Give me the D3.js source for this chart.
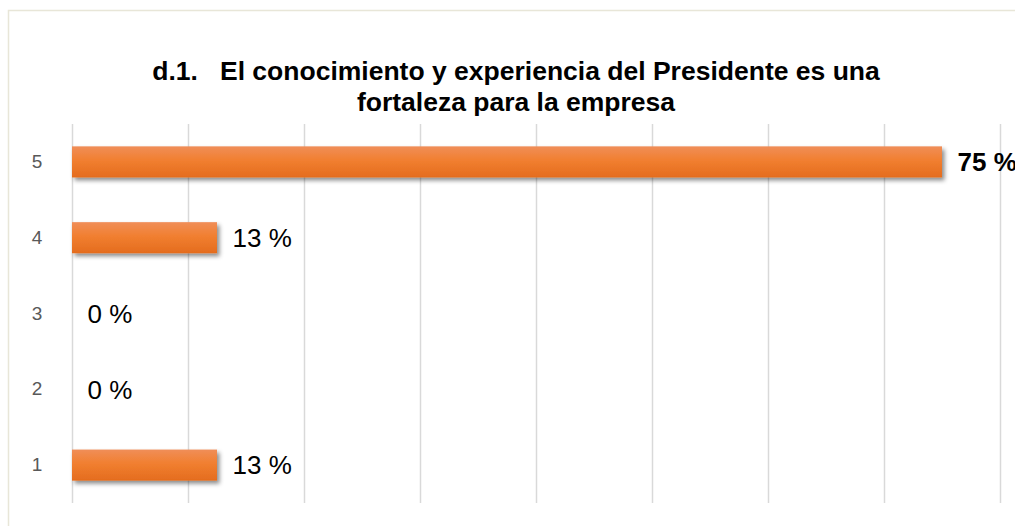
<!DOCTYPE html>
<html>
<head>
<meta charset="utf-8">
<script src="https://cdn.jsdelivr.net/npm/d3@7"></script>
<style>
  html, body { margin: 0; padding: 0; background: #fff; }
  svg { display: block; }
</style>
</head>
<body>
<svg id="chart" width="1015" height="526"></svg>
<script>
// ---- data ----
const categories = ["5", "4", "3", "2", "1"];
const values = [75, 12.5, 0, 0, 12.5];
const valueLabels = ["75 %", "13 %", "0 %", "0 %", "13 %"];
const boldLabel = [true, false, false, false, false];
const gridTicks = [0, 10, 20, 30, 40, 50, 60, 70, 80];
const titleLines = ["d.1.   El conocimiento y experiencia del Presidente es una", "fortaleza para la empresa"];

(function () {
const svg = d3.select("#chart");

// frame
svg.append("rect").attr("x", 8.5).attr("y", 10.5).attr("width", 1200).attr("height", 700)
  .attr("fill", "#fff").attr("stroke", "#e8e6d8").attr("stroke-width", 1.5);

const defs = svg.append("defs");
const grad = defs.append("linearGradient").attr("id", "barGrad").attr("x1", 0).attr("y1", 0).attr("x2", 0).attr("y2", 1);
grad.append("stop").attr("offset", "0%").attr("stop-color", "#f08e58");
grad.append("stop").attr("offset", "45%").attr("stop-color", "#f17f30");
grad.append("stop").attr("offset", "100%").attr("stop-color", "#e46c1e");
const filt = defs.append("filter").attr("id", "shadow").attr("x", "-5%").attr("y", "-30%").attr("width", "115%").attr("height", "180%");
filt.append("feDropShadow").attr("dx", 2.5).attr("dy", 3).attr("stdDeviation", 2.2)
  .attr("flood-color", "#000").attr("flood-opacity", 0.45);

const plotLeft = 71.5, plotTop = 124, plotBottom = 503;
const x = d3.scaleLinear().domain([0, 80]).range([plotLeft, plotLeft + 928]);
const y = d3.scaleBand().domain(categories).range([plotTop, plotBottom]).paddingInner(0.59).paddingOuter(0.295);

// grid lines
svg.append("g").selectAll("line").data(gridTicks).join("line")
  .attr("x1", d => Math.round(x(d)) + 0.5).attr("x2", d => Math.round(x(d)) + 0.5)
  .attr("y1", plotTop).attr("y2", plotBottom)
  .attr("stroke", "#d9d9d9").attr("stroke-width", 1.5);

// y axis labels
const yAxis = d3.axisLeft(y).tickSize(0).tickPadding(0);
const gy = svg.append("g").attr("transform", `translate(42,0)`).call(yAxis);
gy.select(".domain").remove();
gy.selectAll("text").attr("font-family", "Liberation Sans, Arial, sans-serif")
  .attr("font-size", 19).attr("fill", "#595959").attr("text-anchor", "middle").attr("dx", -5);

// bars
svg.append("g").selectAll("rect").data(values).join("rect")
  .attr("x", x(0) + 0.5)
  .attr("y", (d, i) => y(categories[i]))
  .attr("width", d => Math.max(0, x(d) - x(0)))
  .attr("height", y.bandwidth())
  .attr("fill", "url(#barGrad)")
  .attr("filter", "url(#shadow)")
  .style("display", d => d > 0 ? null : "none");

// value labels
svg.append("g").selectAll("text").data(values).join("text")
  .attr("x", d => x(d) + 16)
  .attr("y", (d, i) => y(categories[i]) + y.bandwidth() / 2)
  .attr("dy", "0.36em")
  .attr("font-family", "Liberation Sans, Arial, sans-serif")
  .attr("font-size", 26)
  .attr("font-weight", (d, i) => boldLabel[i] ? "bold" : "normal")
  .attr("fill", "#000")
  .text((d, i) => valueLabels[i]);

// title
svg.append("g").selectAll("text").data(titleLines).join("text")
  .attr("x", 516).attr("y", (d, i) => 80 + i * 31)
  .attr("text-anchor", "middle")
  .attr("font-family", "Liberation Sans, Arial, sans-serif")
  .attr("font-weight", "bold").attr("font-size", 26.5)
  .attr("fill", "#000")
  .style("white-space", "pre")
  .text(d => d);
})();
</script>
</body>
</html>
